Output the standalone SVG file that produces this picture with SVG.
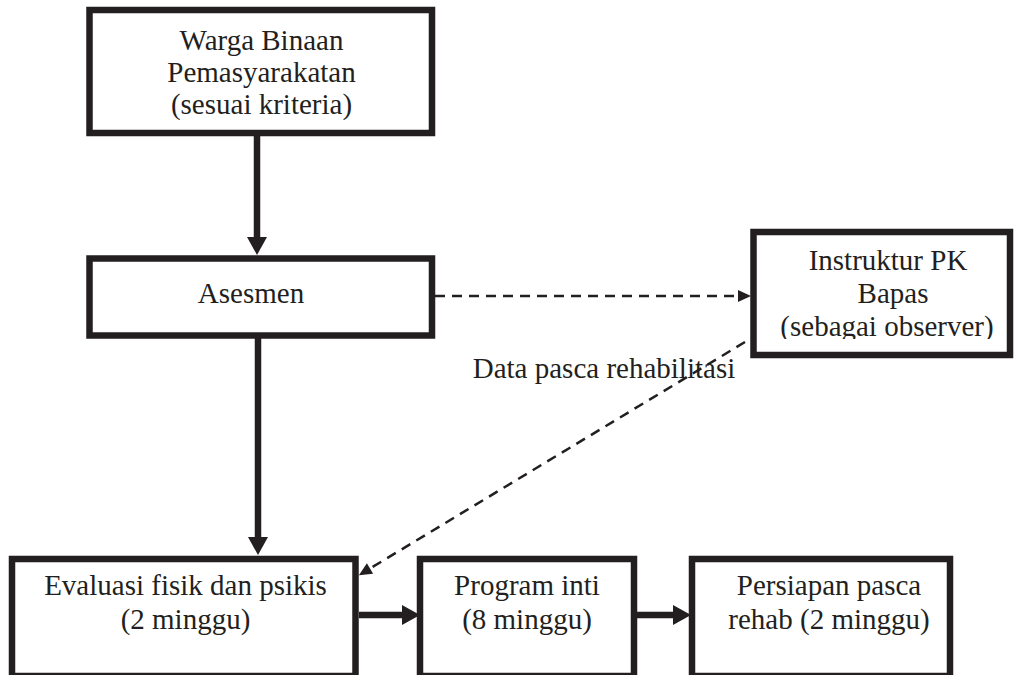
<svg xmlns="http://www.w3.org/2000/svg" width="1014" height="675" viewBox="0 0 1014 675">
<style>
.box{fill:#fff;stroke:#231f20;stroke-width:6.5}
.t{font-family:'Liberation Serif','Times New Roman',serif;font-size:29px;fill:#231f20;text-anchor:middle}
.solid{stroke:#231f20;stroke-width:6.5;fill:none}
.dash{stroke:#231f20;stroke-width:2.5;fill:none;stroke-dasharray:10 7}
</style>
<defs>
<marker id="ah" markerUnits="userSpaceOnUse" markerWidth="18" markerHeight="20" refX="0" refY="10" orient="auto" overflow="visible">
<path d="M0,0 L18,10 L0,20 z" fill="#231f20"/>
</marker>
<marker id="ahs" markerUnits="userSpaceOnUse" markerWidth="13" markerHeight="12" refX="0" refY="6" orient="auto" overflow="visible">
<path d="M0,0 L13,6 L0,12 z" fill="#231f20"/>
</marker>
<clipPath id="clipI"><rect x="756" y="236" width="252" height="103"/></clipPath>
</defs>
<rect width="1014" height="675" fill="#fff"/>
<g id="connectors">
<line class="solid" x1="257" y1="136" x2="257" y2="237" marker-end="url(#ah)"/>
<line class="solid" x1="258" y1="338" x2="258" y2="537" marker-end="url(#ah)"/>
<line class="solid" x1="359" y1="615" x2="402" y2="615" marker-end="url(#ah)"/>
<line class="solid" x1="637" y1="615" x2="673" y2="615" marker-end="url(#ah)"/>
<line class="dash" x1="435" y1="296" x2="738" y2="296" marker-end="url(#ahs)"/>
<line class="dash" x1="745" y1="342" x2="370" y2="568.5" marker-end="url(#ahs)"/>
</g>
<g id="node-warga">
<rect class="box" x="89.5" y="10" width="342.5" height="123"/>
<text class="t" x="261.5" y="50">Warga Binaan</text>
<text class="t" x="261.5" y="82">Pemasyarakatan</text>
<text class="t" x="261.5" y="114">(sesuai kriteria)</text>
</g>
<g id="node-asesmen">
<rect class="box" x="89.5" y="258.5" width="342.5" height="77"/>
<text class="t" x="251" y="303">Asesmen</text>
</g>
<g id="node-instruktur">
<rect class="box" x="753.5" y="232" width="256.5" height="123"/>
<g clip-path="url(#clipI)">
<text class="t" x="888" y="270">Instruktur PK</text>
<text class="t" x="893" y="303">Bapas</text>
<text class="t" x="887" y="336">(sebagai observer)</text>
</g>
</g>
<g id="label-data">
<text class="t" x="604" y="378">Data pasca rehabilitasi</text>
</g>
<g id="node-evaluasi">
<rect class="box" x="12" y="559" width="343.5" height="117"/>
<text class="t" x="185.5" y="595">Evaluasi fisik dan psikis</text>
<text class="t" x="185.5" y="629">(2 minggu)</text>
</g>
<g id="node-program">
<rect class="box" x="420" y="559" width="214" height="117"/>
<text class="t" x="527" y="595">Program inti</text>
<text class="t" x="527" y="629">(8 minggu)</text>
</g>
<g id="node-persiapan">
<rect class="box" x="692" y="559" width="258" height="117"/>
<text class="t" x="829" y="595">Persiapan pasca</text>
<text class="t" x="829" y="629">rehab (2 minggu)</text>
</g>
</svg>
